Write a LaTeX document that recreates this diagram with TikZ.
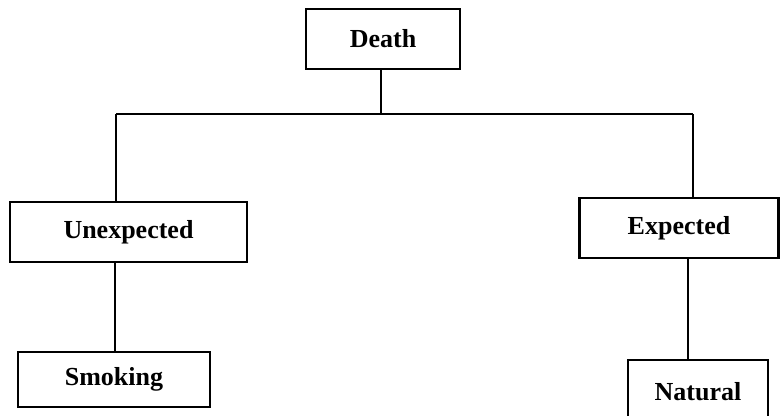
\documentclass[tikz,border=0pt]{standalone}
\usepackage{fontspec}
\setmainfont{Liberation Serif}
\begin{document}
\begin{tikzpicture}[x=1pt,y=-1pt,
  boxthick/.style={draw,line width=2.5pt,inner sep=0pt,font=\fontsize{26}{30}\selectfont\bfseries},
  boxthin/.style={draw,line width=1.2pt,inner sep=0pt,font=\fontsize{26}{30}\selectfont\bfseries},
  conn/.style={line width=1.1pt}]
\useasboundingbox (0,0) rectangle (781,415);
\clip (0,0) rectangle (781,415);
\node[boxthick,minimum width=154pt,minimum height=60pt] (death) at (383,39) {Death};
\node[boxthick,minimum width=237pt,minimum height=60pt] (unexp) at (128.5,232) {Unexpected};
\node[boxthick,minimum width=199pt,minimum height=60pt] (exp) at (679,228) {Expected};
\node[boxthin,minimum width=192pt,minimum height=55pt] (smoke) at (114,379.5) {Smoking};
\node[boxthin,minimum width=140pt,minimum height=64pt] (nat) at (698,392) {Natural};
\coordinate (bus) at (381,114);
\coordinate (busL) at (116,114);
\coordinate (busR) at (693,114);
\draw[conn] (death.south -| bus) -- (bus);
\draw[conn] (busL) -- (busR);
\draw[conn] (busL) -- (busL |- unexp.north);
\draw[conn] (busR) -- (busR |- exp.north);
\draw[conn] (115,262) coordinate (u1) -- (u1 |- smoke.north);
\draw[conn] (688,258) coordinate (e1) -- (e1 |- nat.north);
\end{tikzpicture}
\end{document}
